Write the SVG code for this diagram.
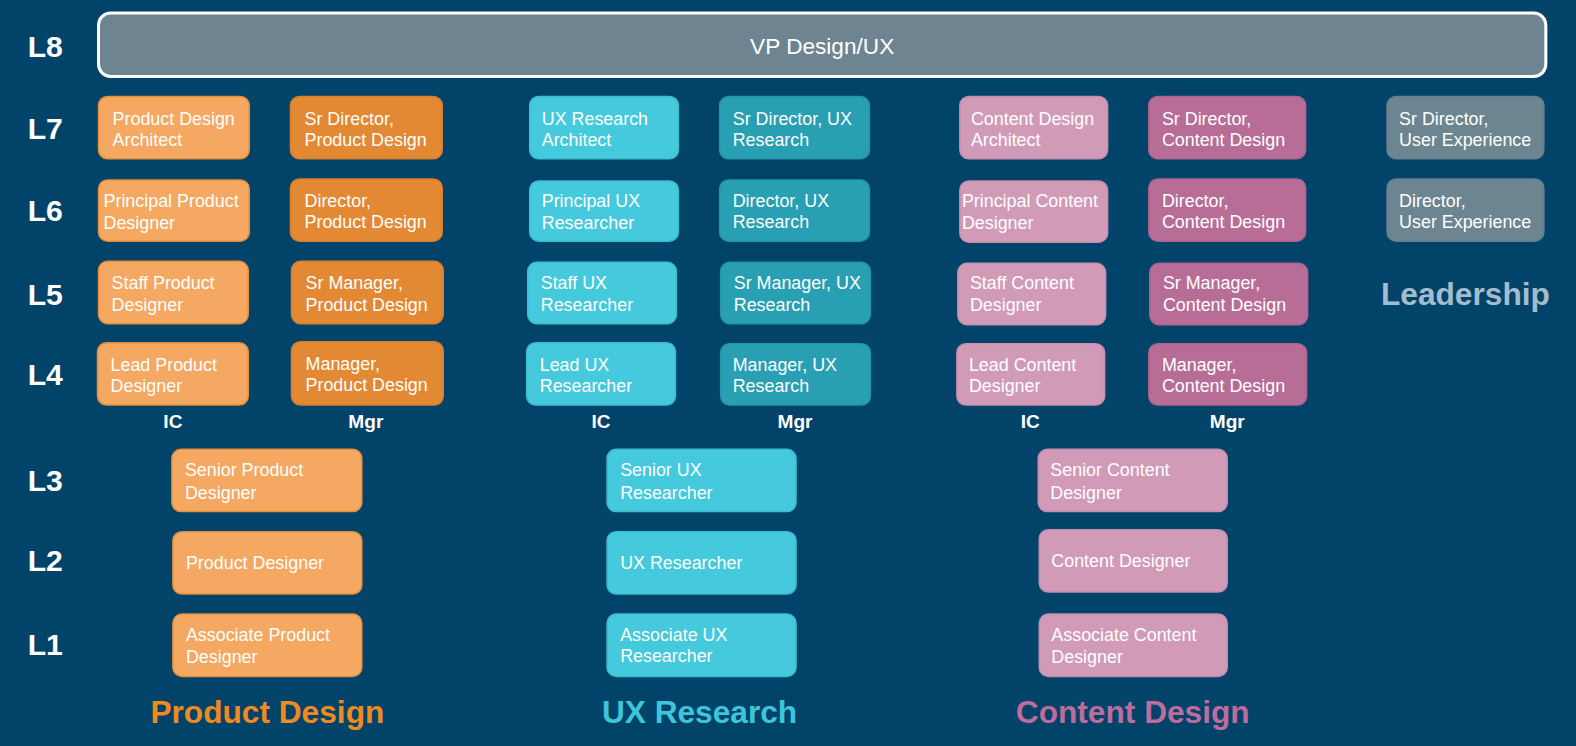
<svg xmlns="http://www.w3.org/2000/svg" width="1576" height="746" viewBox="0 0 1576 746">
<style>
.bg{fill:#02436A}
.b{rx:9px;ry:9px;stroke-width:1.5}
.pi{fill:#F4A862;stroke:#E48F3A}
.pm{fill:#E38833;stroke:#D97E2C}
.ui{fill:#45C9DC;stroke:#3DBDD0}
.um{fill:#289FB2;stroke:#2396A8}
.ci{fill:#D19BB8;stroke:#C68FAD}
.cm{fill:#B86D97;stroke:#AE648E}
.ld{fill:#6C8591;stroke:#65808C}
.t{font-family:"Liberation Sans",Arial,sans-serif;font-size:17.8px;fill:#FFFFFF}
.lv{font-family:"Liberation Sans",Arial,sans-serif;font-size:30px;font-weight:bold;fill:#FFFFFF;text-anchor:middle}
.col{font-family:"Liberation Sans",Arial,sans-serif;font-size:19px;font-weight:bold;fill:#FFFFFF;text-anchor:middle}
.ttl{font-family:"Liberation Sans",Arial,sans-serif;font-size:31.5px;font-weight:bold;text-anchor:middle}
</style>
<rect class="bg" x="0" y="0" width="1576" height="746"/>
<g transform="scale(1.0051)">
<g id="levels">
<text class="lv" x="45" y="57">L8</text>
<text class="lv" x="45" y="138">L7</text>
<text class="lv" x="45" y="220">L6</text>
<text class="lv" x="45" y="303">L5</text>
<text class="lv" x="45" y="383">L4</text>
<text class="lv" x="45" y="489">L3</text>
<text class="lv" x="45" y="568">L2</text>
<text class="lv" x="45" y="652">L1</text>
</g>

<g id="vp">
<rect x="98" y="13" width="1440" height="63" rx="12" ry="12" fill="#6E8591" stroke="#FFFFFF" stroke-width="3"/>
<text class="t" x="818" y="54" style="font-size:22.5px" text-anchor="middle">VP Design/UX</text>
</g>

<g id="connectors"></g>

<g id="pd-ic-l7"><rect class="b pi" x="98" y="96" width="150" height="62"/><text class="t" x="112" y="124">Product Design</text><text class="t" x="112" y="145">Architect</text></g>
<g id="pd-ic-l6"><rect class="b pi" x="98" y="179" width="150" height="61"/><text class="t" x="103" y="206">Principal Product</text><text class="t" x="103" y="228">Designer</text></g>
<g id="pd-ic-l5"><rect class="b pi" x="98" y="260" width="149" height="62"/><text class="t" x="111" y="288">Staff Product</text><text class="t" x="111" y="309">Designer</text></g>
<g id="pd-ic-l4"><rect class="b pi" x="97" y="341" width="150" height="62"/><text class="t" x="110" y="369">Lead Product</text><text class="t" x="110" y="390">Designer</text></g>
<g id="pd-mgr-l7"><rect class="b pm" x="289" y="96" width="151" height="62"/><text class="t" x="303" y="124">Sr Director,</text><text class="t" x="303" y="145">Product Design</text></g>
<g id="pd-mgr-l6"><rect class="b pm" x="289" y="178" width="151" height="62"/><text class="t" x="303" y="206">Director,</text><text class="t" x="303" y="227">Product Design</text></g>
<g id="pd-mgr-l5"><rect class="b pm" x="290" y="260" width="151" height="62"/><text class="t" x="304" y="288">Sr Manager,</text><text class="t" x="304" y="309">Product Design</text></g>
<g id="pd-mgr-l4"><rect class="b pm" x="290" y="340" width="151" height="63"/><text class="t" x="304" y="368">Manager,</text><text class="t" x="304" y="389">Product Design</text></g>

<g id="ux-ic-l7"><rect class="b ui" x="527" y="96" width="148" height="62"/><text class="t" x="539" y="124">UX Research</text><text class="t" x="539" y="145">Architect</text></g>
<g id="ux-ic-l6"><rect class="b ui" x="527" y="180" width="148" height="60"/><text class="t" x="539" y="206">Principal UX</text><text class="t" x="539" y="228">Researcher</text></g>
<g id="ux-ic-l5"><rect class="b ui" x="525" y="261" width="148" height="61"/><text class="t" x="538" y="288">Staff UX</text><text class="t" x="538" y="309">Researcher</text></g>
<g id="ux-ic-l4"><rect class="b ui" x="524" y="341" width="148" height="62"/><text class="t" x="537" y="369">Lead UX</text><text class="t" x="537" y="390">Researcher</text></g>
<g id="ux-mgr-l7"><rect class="b um" x="716" y="96" width="149" height="62"/><text class="t" x="729" y="124">Sr Director, UX</text><text class="t" x="729" y="145">Research</text></g>
<g id="ux-mgr-l6"><rect class="b um" x="716" y="179" width="149" height="61"/><text class="t" x="729" y="206">Director, UX</text><text class="t" x="729" y="227">Research</text></g>
<g id="ux-mgr-l5"><rect class="b um" x="717" y="261" width="149" height="61"/><text class="t" x="730" y="288">Sr Manager, UX</text><text class="t" x="730" y="309">Research</text></g>
<g id="ux-mgr-l4"><rect class="b um" x="717" y="342" width="149" height="61"/><text class="t" x="729" y="369">Manager, UX</text><text class="t" x="729" y="390">Research</text></g>

<g id="cd-ic-l7"><rect class="b ci" x="955" y="96" width="147" height="62"/><text class="t" x="966" y="124">Content Design</text><text class="t" x="966" y="145">Architect</text></g>
<g id="cd-ic-l6"><rect class="b ci" x="955" y="180" width="147" height="61"/><text class="t" x="957" y="206">Principal Content</text><text class="t" x="957" y="228">Designer</text></g>
<g id="cd-ic-l5"><rect class="b ci" x="953" y="262" width="147" height="61"/><text class="t" x="965" y="288">Staff Content</text><text class="t" x="965" y="309">Designer</text></g>
<g id="cd-ic-l4"><rect class="b ci" x="952" y="342" width="147" height="61"/><text class="t" x="964" y="369">Lead Content</text><text class="t" x="964" y="390">Designer</text></g>
<g id="cd-mgr-l7"><rect class="b cm" x="1143" y="96" width="156" height="62"/><text class="t" x="1156" y="124">Sr Director,</text><text class="t" x="1156" y="145">Content Design</text></g>
<g id="cd-mgr-l6"><rect class="b cm" x="1143" y="178" width="156" height="62"/><text class="t" x="1156" y="206">Director,</text><text class="t" x="1156" y="227">Content Design</text></g>
<g id="cd-mgr-l5"><rect class="b cm" x="1144" y="262" width="157" height="61"/><text class="t" x="1157" y="288">Sr Manager,</text><text class="t" x="1157" y="309">Content Design</text></g>
<g id="cd-mgr-l4"><rect class="b cm" x="1143" y="342" width="157" height="61"/><text class="t" x="1156" y="369">Manager,</text><text class="t" x="1156" y="390">Content Design</text></g>

<g id="ld-l7"><rect class="b ld" x="1380" y="96" width="156" height="62"/><text class="t" x="1392" y="124">Sr Director,</text><text class="t" x="1392" y="145">User Experience</text></g>
<g id="ld-l6"><rect class="b ld" x="1380" y="178" width="156" height="62"/><text class="t" x="1392" y="206">Director,</text><text class="t" x="1392" y="227">User Experience</text></g>
<g id="leadership-label"><text class="ttl" x="1458" y="303" fill="#A2BDCC">Leadership</text></g>

<g id="col-labels">
<text class="col" x="172" y="426">IC</text>
<text class="col" x="364" y="426">Mgr</text>
<text class="col" x="598" y="426">IC</text>
<text class="col" x="791" y="426">Mgr</text>
<text class="col" x="1025" y="426">IC</text>
<text class="col" x="1221" y="426">Mgr</text>
</g>

<g id="pd-l3"><rect class="b pi" x="171" y="447" width="189" height="62"/><text class="t" x="184" y="474">Senior Product</text><text class="t" x="184" y="496">Designer</text></g>
<g id="pd-l2"><rect class="b pi" x="172" y="529" width="188" height="62"/><text class="t" x="185" y="566">Product Designer</text></g>
<g id="pd-l1"><rect class="b pi" x="172" y="611" width="188" height="62"/><text class="t" x="185" y="638">Associate Product</text><text class="t" x="185" y="660">Designer</text></g>

<g id="ux-l3"><rect class="b ui" x="604" y="447" width="188" height="62"/><text class="t" x="617" y="474">Senior UX</text><text class="t" x="617" y="496">Researcher</text></g>
<g id="ux-l2"><rect class="b ui" x="604" y="529" width="188" height="62"/><text class="t" x="617" y="566">UX Researcher</text></g>
<g id="ux-l1"><rect class="b ui" x="604" y="611" width="188" height="62"/><text class="t" x="617" y="638">Associate UX</text><text class="t" x="617" y="659">Researcher</text></g>

<g id="cd-l3"><rect class="b ci" x="1033" y="447" width="188" height="62"/><text class="t" x="1045" y="474">Senior Content</text><text class="t" x="1045" y="496">Designer</text></g>
<g id="cd-l2"><rect class="b ci" x="1034" y="527" width="187" height="62"/><text class="t" x="1046" y="564">Content Designer</text></g>
<g id="cd-l1"><rect class="b ci" x="1034" y="611" width="187" height="62"/><text class="t" x="1046" y="638">Associate Content</text><text class="t" x="1046" y="660">Designer</text></g>

<g id="titles">
<text class="ttl" x="266" y="719" fill="#F08A1E">Product Design</text>
<text class="ttl" x="696" y="719" fill="#3FC5D9">UX Research</text>
<text class="ttl" x="1127" y="719" fill="#BD6C9B">Content Design</text>
</g>
</g>
</svg>
